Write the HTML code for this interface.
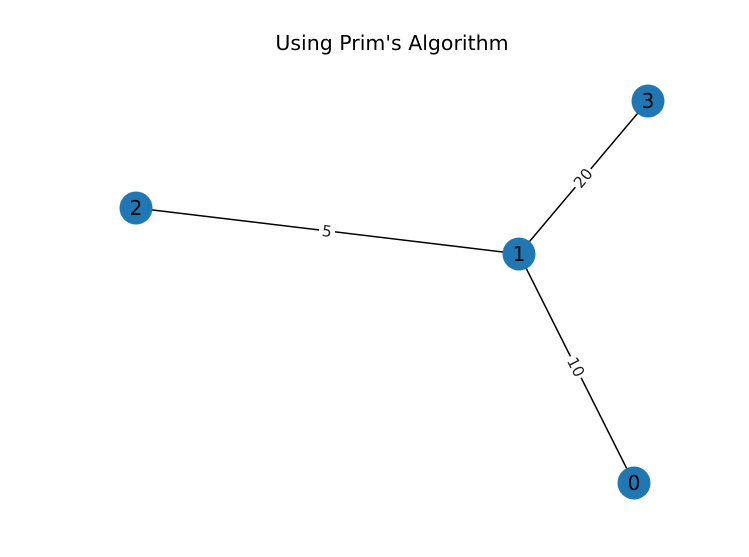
<!DOCTYPE html>
<html><head><meta charset="utf-8"><style>
html,body{margin:0;padding:0;background:#fff;}
</style></head><body>
<svg width="749" height="557" xmlns="http://www.w3.org/2000/svg" style="display:block">
<rect width="749" height="557" fill="#fff"/>
<text x="392" y="50" text-anchor="middle" font-family="DejaVu Sans, sans-serif" font-size="20.5" fill="#000">Using Prim's Algorithm</text>
<g stroke="#000" stroke-width="1.5">
<line x1="519" y1="254" x2="648" y2="101"/>
<line x1="519" y1="254" x2="136" y2="208"/>
<line x1="519" y1="254" x2="634" y2="483"/>
</g>
<g font-family="DejaVu Sans, sans-serif" font-size="15.5" fill="#222" text-anchor="middle">
<g transform="translate(583,178) rotate(-50)"><rect x="-12" y="-9" width="24" height="18" fill="#fff"/><text y="5.5">20</text></g>
<g transform="translate(327,231) rotate(7)"><rect x="-8" y="-9" width="16" height="18" fill="#fff"/><text y="5.5">5</text></g>
<g transform="translate(576,367) rotate(63)"><rect x="-12" y="-9" width="24" height="18" fill="#fff"/><text y="5.5">10</text></g>
</g>
<g fill="#1f77b4">
<circle cx="648" cy="101" r="16.5"/>
<circle cx="136" cy="208" r="16.5"/>
<circle cx="519" cy="254" r="16.5"/>
<circle cx="634" cy="483" r="16.5"/>
</g>
<g font-family="DejaVu Sans, sans-serif" font-size="20" fill="#000" text-anchor="middle">
<text x="648" y="108">3</text>
<text x="136" y="215">2</text>
<text x="519" y="261">1</text>
<text x="634" y="490">0</text>
</g>
</svg>
</body></html>
